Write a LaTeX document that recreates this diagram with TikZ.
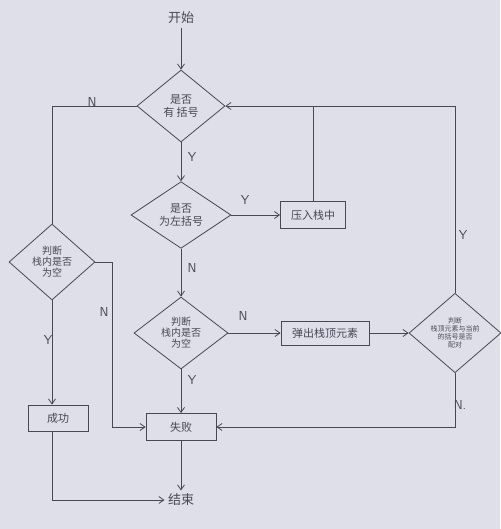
\documentclass[tikz,border=0pt]{standalone}
\usepackage{fontspec}
\newfontfamily\cjk{Noto Sans CJK SC}
\usetikzlibrary{arrows.meta,positioning,shapes.geometric}
\definecolor{paper}{RGB}{222,223,232}
\definecolor{pencil}{RGB}{70,72,86}

\begin{document}
\begin{tikzpicture}[
  x=1pt, y=-1pt,
  font=\cjk\fontsize{11}{13}\selectfont,
  every node/.style={text=pencil},
  line/.style={draw=pencil, line width=0.8pt},
  arr/.style={line, -{Straight Barb[length=5pt,width=7pt]}},
  dec/.style={diamond, draw=pencil, line width=0.8pt, align=center, inner sep=0pt},
  box/.style={rectangle, draw=pencil, line width=0.8pt, align=center, inner sep=2pt},
  lbl/.style={font=\sffamily\fontsize{13}{14}\selectfont}
]
\fill[paper] (0,0) rectangle (500,529);
\useasboundingbox (0,0) rectangle (500,529);

% main column
\node[font=\cjk\fontsize{13}{14}\selectfont] (start) at (181,18) {开始};
\node[dec, minimum width=88pt, minimum height=72pt] (hasb) at (181,106) {是否\\有\ 括号};
\node[dec, minimum width=100pt, minimum height=60pt] (left) at (181,215) {是否\\为左括号};
\node[box, minimum width=65pt, minimum height=27pt] (push) at (313,215) {压入栈中};
\node[dec, minimum width=94pt, minimum height=72pt, font=\cjk\fontsize{10}{11}\selectfont] (emptyM) at (181,333) {判断\\栈内是否\\为空};
\node[box, minimum width=88pt, minimum height=24pt] (pop) at (325,333) {弹出栈顶元素};
\node[dec, minimum width=92pt, minimum height=74pt, font=\cjk\fontsize{7}{8}\selectfont] (match) at (455,333) {判断\\栈顶元素与当前\\的括号是否\\配对};
\node[box, minimum width=70pt, minimum height=27pt] (fail) at (181,427) {失败};
\node[font=\cjk\fontsize{13}{14}\selectfont] (end) at (181,500) {结束};

% left branch
\node[dec, minimum width=86pt, minimum height=76pt, font=\cjk\fontsize{10}{11}\selectfont] (emptyL) at (52,262) {判断\\栈内是否\\为空};
\node[box, minimum width=60pt, minimum height=26pt] (succ) at (58,418) {成功};
\coordinate (bendN) at (112,262);

% labels
\node[lbl] (nHas) at (92,102) {N};
\node[lbl] (yHas) at (192,157) {Y};
\node[lbl] (yLeft) at (245,200) {Y};
\node[lbl] (nLeft) at (192,268) {N};
\node[lbl] (nEmptyM) at (243,316) {N};
\node[lbl] (yEmptyM) at (192,380) {Y};
\node[lbl] (yMatch) at (463,235) {Y};
\node[lbl] (nMatch) at (460,405) {N.};
\node[lbl] (yEmptyL) at (48,340) {Y};
\node[lbl] (nEmptyL) at (104,312) {N};

\draw[arr] (start) -- (hasb);
\draw[line] (hasb.west) -| (emptyL.north);
\draw[arr] (hasb.south) -- (left.north);
\draw[arr] (left.east) -- (push.west);
\draw[line] (push.north) -- (push.north |- hasb.east);
\draw[arr] (match.north) |- (hasb.east);
\draw[arr] (left.south) -- (emptyM.north);
\draw[arr] (emptyM.east) -- (pop.west);
\draw[arr] (pop.east) -- (match.west);
\draw[arr] (match.south) |- (fail.east);
\draw[arr] (emptyM.south) -- (fail.north);
\draw[arr] (emptyL.south) -- (emptyL.south |- succ.north);
\draw[arr] (emptyL.east) -- (bendN) |- (fail.west);
\draw[arr] (succ.south -| emptyL.south) |- (end.west);
\draw[arr] (fail.south) -- (end.north);
\end{tikzpicture}
\end{document}
